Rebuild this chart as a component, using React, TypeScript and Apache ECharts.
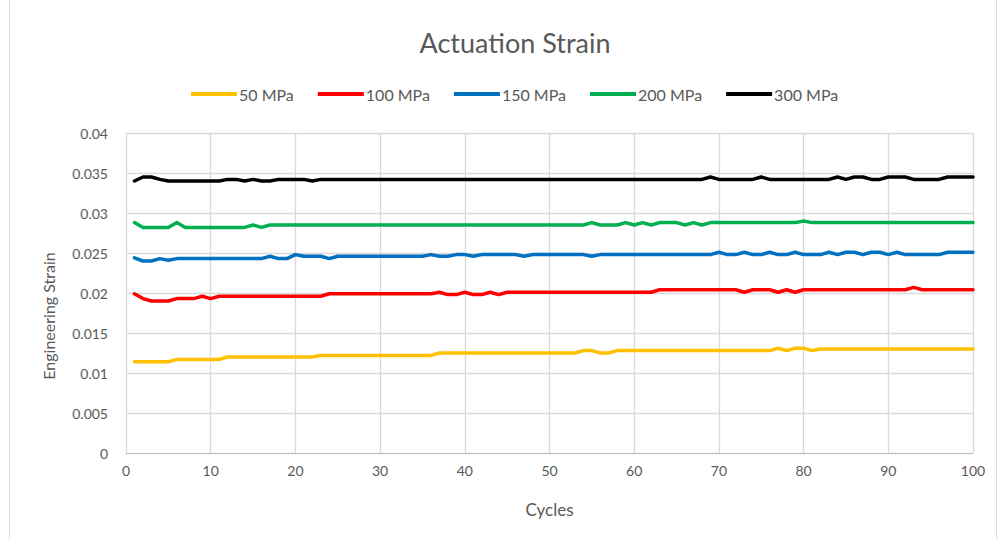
import React, { useEffect, useRef } from "react";
import * as echarts from "echarts";

// Cycle numbers 1..100
const cycles: number[] = [
  1, 2, 3, 4, 5, 6, 7, 8, 9, 10,
  11, 12, 13, 14, 15, 16, 17, 18, 19, 20,
  21, 22, 23, 24, 25, 26, 27, 28, 29, 30,
  31, 32, 33, 34, 35, 36, 37, 38, 39, 40,
  41, 42, 43, 44, 45, 46, 47, 48, 49, 50,
  51, 52, 53, 54, 55, 56, 57, 58, 59, 60,
  61, 62, 63, 64, 65, 66, 67, 68, 69, 70,
  71, 72, 73, 74, 75, 76, 77, 78, 79, 80,
  81, 82, 83, 84, 85, 86, 87, 88, 89, 90,
  91, 92, 93, 94, 95, 96, 97, 98, 99, 100,
];

const strain50: number[] = [
  0.0114, 0.0114, 0.0114, 0.0114, 0.0114, 0.0117, 0.0117, 0.0117, 0.0117, 0.0117,
  0.0117, 0.012, 0.012, 0.012, 0.012, 0.012, 0.012, 0.012, 0.012, 0.012,
  0.012, 0.012, 0.0122, 0.0122, 0.0122, 0.0122, 0.0122, 0.0122, 0.0122, 0.0122,
  0.0122, 0.0122, 0.0122, 0.0122, 0.0122, 0.0122, 0.0125, 0.0125, 0.0125, 0.0125,
  0.0125, 0.0125, 0.0125, 0.0125, 0.0125, 0.0125, 0.0125, 0.0125, 0.0125, 0.0125,
  0.0125, 0.0125, 0.0125, 0.0128, 0.0128, 0.0125, 0.0125, 0.0128, 0.0128, 0.0128,
  0.0128, 0.0128, 0.0128, 0.0128, 0.0128, 0.0128, 0.0128, 0.0128, 0.0128, 0.0128,
  0.0128, 0.0128, 0.0128, 0.0128, 0.0128, 0.0128, 0.0131, 0.0128, 0.0131, 0.0131,
  0.0128, 0.013, 0.013, 0.013, 0.013, 0.013, 0.013, 0.013, 0.013, 0.013,
  0.013, 0.013, 0.013, 0.013, 0.013, 0.013, 0.013, 0.013, 0.013, 0.013,
];

const strain100: number[] = [
  0.0199, 0.0193, 0.019, 0.019, 0.019, 0.0193, 0.0193, 0.0193, 0.0196, 0.0193,
  0.0196, 0.0196, 0.0196, 0.0196, 0.0196, 0.0196, 0.0196, 0.0196, 0.0196, 0.0196,
  0.0196, 0.0196, 0.0196, 0.0199, 0.0199, 0.0199, 0.0199, 0.0199, 0.0199, 0.0199,
  0.0199, 0.0199, 0.0199, 0.0199, 0.0199, 0.0199, 0.0201, 0.0198, 0.0198, 0.0201,
  0.0198, 0.0198, 0.0201, 0.0198, 0.0201, 0.0201, 0.0201, 0.0201, 0.0201, 0.0201,
  0.0201, 0.0201, 0.0201, 0.0201, 0.0201, 0.0201, 0.0201, 0.0201, 0.0201, 0.0201,
  0.0201, 0.0201, 0.0204, 0.0204, 0.0204, 0.0204, 0.0204, 0.0204, 0.0204, 0.0204,
  0.0204, 0.0204, 0.0201, 0.0204, 0.0204, 0.0204, 0.0201, 0.0204, 0.0201, 0.0204,
  0.0204, 0.0204, 0.0204, 0.0204, 0.0204, 0.0204, 0.0204, 0.0204, 0.0204, 0.0204,
  0.0204, 0.0204, 0.0207, 0.0204, 0.0204, 0.0204, 0.0204, 0.0204, 0.0204, 0.0204,
];

const strain150: number[] = [
  0.0244, 0.024, 0.024, 0.0243, 0.0241, 0.0243, 0.0243, 0.0243, 0.0243, 0.0243,
  0.0243, 0.0243, 0.0243, 0.0243, 0.0243, 0.0243, 0.0246, 0.0243, 0.0243, 0.0248,
  0.0246, 0.0246, 0.0246, 0.0243, 0.0246, 0.0246, 0.0246, 0.0246, 0.0246, 0.0246,
  0.0246, 0.0246, 0.0246, 0.0246, 0.0246, 0.0248, 0.0246, 0.0246, 0.0248, 0.0248,
  0.0246, 0.0248, 0.0248, 0.0248, 0.0248, 0.0248, 0.0246, 0.0248, 0.0248, 0.0248,
  0.0248, 0.0248, 0.0248, 0.0248, 0.0246, 0.0248, 0.0248, 0.0248, 0.0248, 0.0248,
  0.0248, 0.0248, 0.0248, 0.0248, 0.0248, 0.0248, 0.0248, 0.0248, 0.0248, 0.0251,
  0.0248, 0.0248, 0.0251, 0.0248, 0.0248, 0.0251, 0.0248, 0.0248, 0.0251, 0.0248,
  0.0248, 0.0248, 0.0251, 0.0248, 0.0251, 0.0251, 0.0248, 0.0251, 0.0251, 0.0248,
  0.0251, 0.0248, 0.0248, 0.0248, 0.0248, 0.0248, 0.0251, 0.0251, 0.0251, 0.0251,
];

const strain200: number[] = [
  0.0288, 0.0282, 0.0282, 0.0282, 0.0282, 0.0288, 0.0282, 0.0282, 0.0282, 0.0282,
  0.0282, 0.0282, 0.0282, 0.0282, 0.0285, 0.0282, 0.0285, 0.0285, 0.0285, 0.0285,
  0.0285, 0.0285, 0.0285, 0.0285, 0.0285, 0.0285, 0.0285, 0.0285, 0.0285, 0.0285,
  0.0285, 0.0285, 0.0285, 0.0285, 0.0285, 0.0285, 0.0285, 0.0285, 0.0285, 0.0285,
  0.0285, 0.0285, 0.0285, 0.0285, 0.0285, 0.0285, 0.0285, 0.0285, 0.0285, 0.0285,
  0.0285, 0.0285, 0.0285, 0.0285, 0.0288, 0.0285, 0.0285, 0.0285, 0.0288, 0.0285,
  0.0288, 0.0285, 0.0288, 0.0288, 0.0288, 0.0285, 0.0288, 0.0285, 0.0288, 0.0288,
  0.0288, 0.0288, 0.0288, 0.0288, 0.0288, 0.0288, 0.0288, 0.0288, 0.0288, 0.029,
  0.0288, 0.0288, 0.0288, 0.0288, 0.0288, 0.0288, 0.0288, 0.0288, 0.0288, 0.0288,
  0.0288, 0.0288, 0.0288, 0.0288, 0.0288, 0.0288, 0.0288, 0.0288, 0.0288, 0.0288,
];

const strain300: number[] = [
  0.034, 0.0345, 0.0345, 0.0342, 0.034, 0.034, 0.034, 0.034, 0.034, 0.034,
  0.034, 0.0342, 0.0342, 0.034, 0.0342, 0.034, 0.034, 0.0342, 0.0342, 0.0342,
  0.0342, 0.034, 0.0342, 0.0342, 0.0342, 0.0342, 0.0342, 0.0342, 0.0342, 0.0342,
  0.0342, 0.0342, 0.0342, 0.0342, 0.0342, 0.0342, 0.0342, 0.0342, 0.0342, 0.0342,
  0.0342, 0.0342, 0.0342, 0.0342, 0.0342, 0.0342, 0.0342, 0.0342, 0.0342, 0.0342,
  0.0342, 0.0342, 0.0342, 0.0342, 0.0342, 0.0342, 0.0342, 0.0342, 0.0342, 0.0342,
  0.0342, 0.0342, 0.0342, 0.0342, 0.0342, 0.0342, 0.0342, 0.0342, 0.0345, 0.0342,
  0.0342, 0.0342, 0.0342, 0.0342, 0.0345, 0.0342, 0.0342, 0.0342, 0.0342, 0.0342,
  0.0342, 0.0342, 0.0342, 0.0345, 0.0342, 0.0345, 0.0345, 0.0342, 0.0342, 0.0345,
  0.0345, 0.0345, 0.0342, 0.0342, 0.0342, 0.0342, 0.0345, 0.0345, 0.0345, 0.0345,
];

const seriesNames: string[] = ["50 MPa", "100 MPa", "150 MPa", "200 MPa", "300 MPa"];
const seriesColors: string[] = ["#FFC000", "#FF0000", "#0070C0", "#00B050", "#000000"];
const seriesValues: number[][] = [strain50, strain100, strain150, strain200, strain300];

const FONT = "Lato, 'Open Sans', sans-serif";
const TEXT = "#595959";
const GRID = "#d9d9d9";

export default function App() {
  const ref = useRef<HTMLDivElement>(null);

  useEffect(() => {
    if (!ref.current) return;
    const chart = echarts.init(ref.current, undefined, { renderer: "svg" });

    const series = seriesNames.map((name, i) => ({
      name,
      type: "line",
      data: cycles.map((c, j) => [c, seriesValues[i][j]]),
      showSymbol: false,
      symbol: "none",
      lineStyle: { width: 3.5, color: seriesColors[i], join: "round", cap: "round" },
      itemStyle: { color: seriesColors[i] },
      z: 2 + i,
    }));

    chart.setOption({
      animation: false,
      backgroundColor: "#ffffff",
      textStyle: { fontFamily: FONT },
      title: {
        text: "Actuation Strain",
        left: 510,
        textAlign: "center",
        top: 24,
        textStyle: { fontFamily: FONT, fontSize: 27, fontWeight: "normal", color: TEXT },
      },
      legend: {
        top: 81,
        left: 186,
        itemWidth: 46,
        itemHeight: 4,
        itemGap: 24,
        icon: "rect",
        textStyle: { fontFamily: FONT, fontSize: 16, color: TEXT, padding: [0, 0, 0, -3] },
        data: seriesNames,
      },
      graphic: [
        {
          type: "rect",
          shape: { x: 9.5, y: -2, width: 987, height: 542 },
          style: { fill: "none", stroke: "#d9d9d9", lineWidth: 1 },
          silent: true,
        },
        {
          type: "text",
          x: 48,
          y: 316,
          rotation: Math.PI / 2,
          style: {
            text: "Engineering Strain",
            fontFamily: FONT,
            fontSize: 16,
            fill: TEXT,
            align: "center",
            verticalAlign: "middle",
          },
          silent: true,
        },
      ],
      grid: { left: 126, right: 27, top: 133, bottom: 86, containLabel: false },
      xAxis: {
        type: "value",
        min: 0,
        max: 100,
        interval: 10,
        name: "Cycles",
        nameLocation: "middle",
        nameGap: 48,
        nameTextStyle: { fontFamily: FONT, fontSize: 17, color: TEXT },
        axisLine: { show: true, lineStyle: { color: "#bfbfbf", width: 1 } },
        axisTick: { show: false },
        axisLabel: { fontFamily: FONT, fontSize: 14, color: TEXT, margin: 10 },
        splitLine: { show: true, lineStyle: { color: GRID, width: 1.3 } },
      },
      yAxis: {
        type: "value",
        min: 0,
        max: 0.04,
        interval: 0.005,
        axisLine: { show: false },
        axisTick: { show: false },
        axisLabel: {
          fontFamily: FONT,
          fontSize: 14,
          color: TEXT,
          margin: 18,
          formatter: (v: number) => String(Number(v.toFixed(3))),
        },
        splitLine: { show: true, lineStyle: { color: GRID, width: 1.3 } },
      },
      series,
    });

    return () => chart.dispose();
  }, []);

  return (
    <div
      ref={ref}
      style={{ position: "absolute", left: 0, top: 0, width: 1000, height: 539 }}
    />
  );
}
